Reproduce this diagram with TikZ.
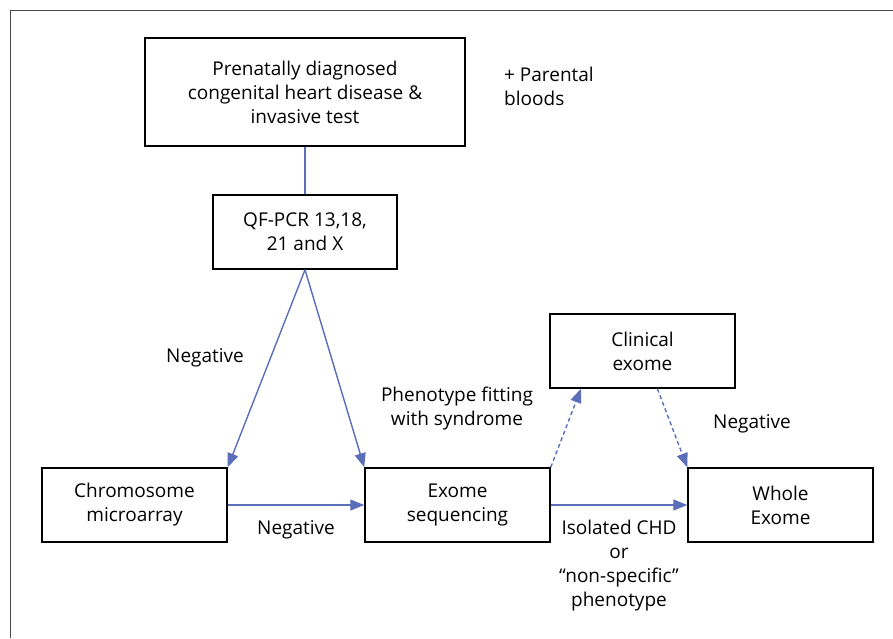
\documentclass[tikz,border=0pt]{standalone}
\usepackage{fontspec}
\setmainfont{Open Sans}
\usetikzlibrary{positioning,arrows.meta,calc}
\definecolor{flowblue}{RGB}{91,110,184}
\definecolor{framegray}{RGB}{70,70,70}
\tikzset{
box/.style={
  draw=black,
  line width=1.5pt,
  align=center,
  inner sep=0pt,
  minimum width=185pt,
  minimum height=74pt
},
flow/.style={draw=flowblue, line width=1.4pt, -{Triangle[length=14pt,width=11pt]}},
dflow/.style={flow, dash pattern=on 4pt off 3pt},
lbl/.style={align=center, inner sep=0pt}
}

\begin{document}
\begin{tikzpicture}[x=1pt, y=-1pt, every node/.style={font=\fontsize{19}{24}\selectfont}]
  \useasboundingbox (0,0) rectangle (893,638);
  \draw[framegray, line width=1pt] (10,638) -- (10,10) -- (893,10);

  % boxes
  \node[box, minimum width=320pt, minimum height=108pt] (prenatal) at (305,92)
    {Prenatally diagnosed\\congenital heart disease \&\\invasive test};
  \node[box, minimum width=184pt] (qfpcr) at (305,232) {QF-PCR 13,18,\\21 and X};
  \node[box] (microarray) at (134.5,505) {Chromosome\\microarray};
  \node[box] (exomeseq) at (457.5,505) {Exome\\sequencing};
  \node[box] (clinical) at (642.5,351) {Clinical\\exome};
  \node[box] (whole) at (780.5,505) {Whole\\Exome};

  % connectors
  \draw[flowblue, line width=1.4pt] (prenatal.south) -- (qfpcr.north);
  \draw[flow] (qfpcr.south) -- (microarray.north east);
  \draw[flow] (qfpcr.south) -- (exomeseq.north west);
  \draw[flow] (microarray.east) -- (exomeseq.west);
  \draw[flow] (exomeseq.east) -- (whole.west);
  \draw[dflow] (exomeseq.north east) -- ($(clinical.south west)!0.17!(clinical.south east)$);
  \draw[dflow] ($(clinical.south west)!0.58!(clinical.south east)$) -- (whole.north west);

  % labels
  \node[lbl, anchor=west, align=left] (parental) at (504,86) {+ Parental\\bloods};
  \node[lbl] (negtop) at (205,358) {Negative};
  \node[lbl] (fitting) at (457,409) {Phenotype fitting\\with syndrome};
  \node[lbl] (negmid) at (296,530) {Negative};
  \node[lbl] (negright) at (752,424) {Negative};
  \node[lbl] (isolated) at (619,566) {Isolated CHD\\or\\``non-specific''\\phenotype};
\end{tikzpicture}
\end{document}
